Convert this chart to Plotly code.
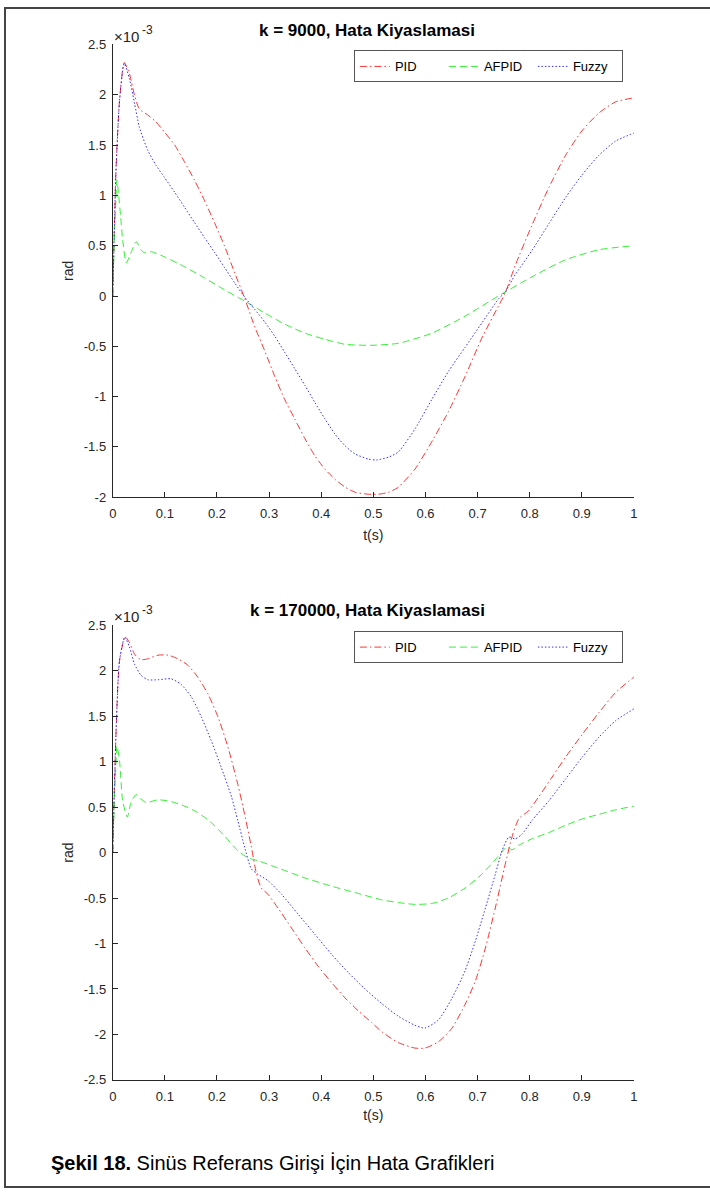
import plotly.graph_objects as go

# ---------------- data (error values in units of 1e-3 rad) ----------------
# k = 9000
t9_pid = [0, 0.006, 0.013, 0.022, 0.032, 0.042, 0.051, 0.067, 0.083, 0.099,
          0.119, 0.138, 0.157, 0.176, 0.196, 0.215, 0.234, 0.253, 0.272, 0.292,
          0.311, 0.33, 0.349, 0.369, 0.388, 0.407, 0.426, 0.446, 0.465, 0.49,
          0.51, 0.53, 0.548, 0.58, 0.612, 0.644, 0.676, 0.708, 0.74, 0.753,
          0.772, 0.804, 0.837, 0.869, 0.90, 0.933, 0.965, 1.0]
e9_pid = [0, 1.22, 1.94, 2.32, 2.21, 1.99, 1.86, 1.80, 1.73, 1.63,
          1.50, 1.33, 1.15, 0.95, 0.72, 0.49, 0.23, -0.02, -0.30, -0.55,
          -0.80, -1.03, -1.22, -1.42, -1.59, -1.72, -1.82, -1.90, -1.95, -1.97,
          -1.97, -1.95, -1.90, -1.72, -1.45, -1.15, -0.80, -0.42, -0.10, 0.03,
          0.30, 0.70, 1.08, 1.40, 1.64, 1.82, 1.93, 1.97]

t9_afpid = [0, 0.003, 0.006, 0.008, 0.011, 0.015, 0.019, 0.026, 0.035, 0.045,
            0.054, 0.061, 0.074, 0.099, 0.138, 0.176, 0.215, 0.253, 0.292, 0.33,
            0.369, 0.407, 0.446, 0.497, 0.548, 0.612, 0.676, 0.74, 0.804, 0.869,
            0.933, 1.0]
e9_afpid = [0, 0.55, 0.95, 1.15, 1.02, 0.80, 0.56, 0.33, 0.43, 0.54,
            0.46, 0.43, 0.44, 0.39, 0.29, 0.18, 0.06, -0.05, -0.17, -0.28,
            -0.37, -0.43, -0.48, -0.49, -0.47, -0.37, -0.20, 0.0, 0.19, 0.36,
            0.46, 0.50]

t9_fuzzy = [0, 0.006, 0.013, 0.022, 0.032, 0.042, 0.051, 0.067, 0.083, 0.099,
            0.119, 0.138, 0.157, 0.176, 0.196, 0.215, 0.234, 0.253, 0.272, 0.292,
            0.311, 0.33, 0.349, 0.369, 0.388, 0.407, 0.426, 0.446, 0.465, 0.49,
            0.506, 0.53, 0.548, 0.58, 0.612, 0.644, 0.676, 0.708, 0.74, 0.753,
            0.772, 0.804, 0.837, 0.869, 0.90, 0.933, 0.965, 1.0]
e9_fuzzy = [0, 1.22, 1.94, 2.31, 2.16, 1.91, 1.68, 1.45, 1.30, 1.18,
            1.03, 0.88, 0.73, 0.58, 0.43, 0.28, 0.13, -0.01, -0.13, -0.26,
            -0.40, -0.56, -0.72, -0.89, -1.06, -1.22, -1.37, -1.49, -1.57, -1.62,
            -1.63, -1.60, -1.55, -1.32, -1.03, -0.75, -0.51, -0.27, -0.03, 0.04,
            0.21, 0.45, 0.72, 0.98, 1.20, 1.40, 1.54, 1.62]

# k = 170000
t17_pid = [0, 0.006, 0.013, 0.024, 0.032, 0.042, 0.054, 0.067, 0.087, 0.106,
           0.125, 0.144, 0.163, 0.183, 0.202, 0.221, 0.24, 0.253, 0.266, 0.276,
           0.285, 0.298, 0.317, 0.343, 0.369, 0.394, 0.42, 0.446, 0.471, 0.497,
           0.516, 0.548, 0.58, 0.599, 0.625, 0.651, 0.676, 0.696, 0.715, 0.734,
           0.753, 0.766, 0.779, 0.798, 0.817, 0.843, 0.869, 0.901, 0.933, 0.965,
           1.0]
e17_pid = [0, 1.27, 2.11, 2.37, 2.31, 2.18, 2.12, 2.13, 2.17, 2.17,
           2.13, 2.06, 1.93, 1.74, 1.49, 1.16, 0.75, 0.42, 0.06, -0.24,
           -0.39, -0.46, -0.61, -0.83, -1.05, -1.25, -1.43, -1.60, -1.74, -1.87,
           -1.97, -2.09, -2.15, -2.15, -2.08, -1.93, -1.67, -1.41, -1.05, -0.61,
           -0.13, 0.17, 0.37, 0.46, 0.61, 0.83, 1.05, 1.30, 1.54, 1.76,
           1.93]

t17_afpid = [0, 0.003, 0.006, 0.008, 0.013, 0.019, 0.028, 0.035, 0.045, 0.054,
             0.064, 0.087, 0.112, 0.138, 0.163, 0.189, 0.215, 0.24, 0.26, 0.279,
             0.317, 0.369, 0.42, 0.471, 0.516, 0.548, 0.58, 0.612, 0.644, 0.676,
             0.708, 0.74, 0.756, 0.766, 0.779, 0.804, 0.837, 0.869, 0.901, 0.933,
             0.965, 1.0]
e17_afpid = [0, 0.55, 0.95, 1.17, 1.01, 0.57, 0.39, 0.55, 0.64, 0.59,
             0.55, 0.58, 0.56, 0.51, 0.44, 0.33, 0.18, 0.02, -0.06, -0.09,
             -0.17, -0.28, -0.37, -0.45, -0.52, -0.55, -0.57, -0.56, -0.50, -0.39,
             -0.24, -0.04, 0.06, 0.03, 0.08, 0.15, 0.22, 0.30, 0.37, 0.42,
             0.47, 0.51]

t17_fuzzy = [0, 0.006, 0.013, 0.023, 0.032, 0.042, 0.054, 0.067, 0.087, 0.112,
             0.131, 0.151, 0.17, 0.189, 0.208, 0.228, 0.24, 0.253, 0.266, 0.279,
             0.298, 0.324, 0.356, 0.388, 0.42, 0.452, 0.484, 0.516, 0.548, 0.58,
             0.599, 0.625, 0.651, 0.676, 0.696, 0.715, 0.734, 0.747, 0.76, 0.772,
             0.785, 0.804, 0.837, 0.869, 0.901, 0.933, 0.965, 1.0]
e17_fuzzy = [0, 1.27, 2.11, 2.37, 2.26, 2.07, 1.95, 1.90, 1.90, 1.91,
             1.85, 1.71, 1.49, 1.23, 0.94, 0.61, 0.35, 0.06, -0.18, -0.24,
             -0.31, -0.46, -0.68, -0.90, -1.12, -1.32, -1.50, -1.66, -1.80, -1.90,
             -1.93, -1.84, -1.60, -1.30, -0.97, -0.61, -0.24, 0.02, 0.17, 0.15,
             0.20, 0.35, 0.57, 0.81, 1.05, 1.27, 1.45, 1.58]

series_names = ["PID", "AFPID", "Fuzzy"]
titles = ["k = 9000, Hata Kiyaslamasi", "k = 170000, Hata Kiyaslamasi"]
x_ticks = [0, 0.1, 0.2, 0.3, 0.4, 0.5, 0.6, 0.7, 0.8, 0.9, 1]
x_ticklabels = ["0", "0.1", "0.2", "0.3", "0.4", "0.5", "0.6", "0.7", "0.8", "0.9", "1"]
y1_ticks = [-2, -1.5, -1, -0.5, 0, 0.5, 1, 1.5, 2, 2.5]
y2_ticks = [-2.5, -2, -1.5, -1, -0.5, 0, 0.5, 1, 1.5, 2, 2.5]
caption_bold = "Şekil 18."
caption_text = " Sinüs Referans Girişi İçin Hata Grafikleri"

# ---------------- figure ----------------
W, H = 710, 1196
FONT = "Liberation Sans, Arial, Helvetica, sans-serif"
AX = "#262626"

styles = {
    "PID": dict(color="rgb(255,0,0)", dash="7px,3px,1.5px,3px"),
    "AFPID": dict(color="rgb(0,235,0)", dash="7px,4px"),
    "Fuzzy": dict(color="rgb(0,0,255)", dash="1.5px,2px"),
}

fig = go.Figure()
panels = [
    ([(t9_pid, e9_pid), (t9_afpid, e9_afpid), (t9_fuzzy, e9_fuzzy)], "x", "y", "legend"),
    ([(t17_pid, e17_pid), (t17_afpid, e17_afpid), (t17_fuzzy, e17_fuzzy)], "x2", "y2", "legend2"),
]
for data, xa, ya, lg in panels:
    for name, (tt, ee) in zip(series_names, data):
        st = styles[name]
        fig.add_trace(go.Scatter(
            x=tt, y=ee, name=name, mode="lines",
            line=dict(color=st["color"], dash=st["dash"], width=1, shape="spline", smoothing=0.6),
            opacity=0.8,
            xaxis=xa, yaxis=ya, legend=lg,
        ))

# map reference-image pixel positions to figure pixels (photo is slightly rescaled)
def px_x(p):
    return ((p - 4.5) / 0.9865) / W

def px_y(p):
    return 1 - ((p - 6.5) / 0.988) / H

xdom = [px_x(113), px_x(633)]
ydom1 = [px_y(497), px_y(44)]
ydom2 = [px_y(1080), px_y(625)]

axis_common = dict(
    showline=True, linecolor=AX, linewidth=1, mirror=False,
    ticks="inside", ticklen=5, tickcolor=AX, tickwidth=1,
    showgrid=False, zeroline=False,
    tickfont=dict(family=FONT, size=13, color=AX),
)

legend_common = dict(
    orientation="h", xanchor="right", yanchor="middle",
    bgcolor="white", bordercolor="#555", borderwidth=1,
    font=dict(family=FONT, size=13, color="black"),
    tracegroupgap=0, itemwidth=30, entrywidthmode="pixels", entrywidth=44,
)

fig.update_layout(
    width=W, height=H,
    margin=dict(l=0, r=0, t=0, b=0),
    paper_bgcolor="white", plot_bgcolor="white",
    font=dict(family=FONT, size=13, color=AX),
    xaxis=dict(domain=xdom, range=[0, 1], tickvals=x_ticks, ticktext=x_ticklabels,
               anchor="y", ticklabelstandoff=4,
               title=dict(text="t(s)", font=dict(size=14), standoff=10), **axis_common),
    yaxis=dict(domain=ydom1, range=[-2, 2.5], tickvals=y1_ticks,
               ticktext=[f"{v:g}" for v in y1_ticks], anchor="x", ticklabelstandoff=3,
               title=dict(text="rad", font=dict(size=14), standoff=6), **axis_common),
    xaxis2=dict(domain=xdom, range=[0, 1], tickvals=x_ticks, ticktext=x_ticklabels,
                anchor="y2", ticklabelstandoff=4,
                title=dict(text="t(s)", font=dict(size=14), standoff=7), **axis_common),
    yaxis2=dict(domain=ydom2, range=[-2.5, 2.5], tickvals=y2_ticks,
                ticktext=[f"{v:g}" for v in y2_ticks], anchor="x2", ticklabelstandoff=3,
                title=dict(text="rad", font=dict(size=14), standoff=6), **axis_common),
    legend=dict(x=px_x(622), y=px_y(66), **legend_common),
    legend2=dict(x=px_x(622), y=px_y(647), **legend_common),
    showlegend=True,
)

annotations = []
for title, ytop in zip(titles, [30, 610]):
    annotations.append(dict(text=f"<b>{title}</b>", x=px_x(367), y=px_y(ytop),
                            xref="paper", yref="paper", xanchor="center", yanchor="middle",
                            showarrow=False, font=dict(family=FONT, size=17, color="black")))
for ytop in [36, 616]:
    annotations.append(dict(text="×10", x=px_x(112), y=px_y(ytop),
                            xref="paper", yref="paper", xanchor="left", yanchor="middle",
                            showarrow=False, font=dict(family=FONT, size=15, color=AX)))
    annotations.append(dict(text="-3", x=px_x(140), y=px_y(ytop - 6),
                            xref="paper", yref="paper", xanchor="left", yanchor="middle",
                            showarrow=False, font=dict(family=FONT, size=12, color=AX)))
annotations.append(dict(text=f"<b>{caption_bold}</b>{caption_text}", x=px_x(49), y=px_y(1163),
                        xref="paper", yref="paper", xanchor="left", yanchor="middle",
                        showarrow=False,
                        font=dict(family="Liberation Sans, Arial, sans-serif", size=20, color="black")))
fig.update_layout(annotations=annotations)

# page frame: open path along the top, left and bottom edges (no right edge)
yt, yb, xl = 1 - 1 / H, 1 / H, 1 / W
fig.add_shape(type="path", xref="paper", yref="paper",
              path=f"M 1.02,{yt} L {xl},{yt} L {xl},{yb} L 1.02,{yb}",
              fillcolor="rgba(0,0,0,0)", line=dict(color="#444", width=2))

fig.write_html(
    "out.html",
    config={"displayModeBar": False, "staticPlot": True},
    post_script="document.documentElement.style.margin='0';document.body.style.margin='0';"
                "document.body.style.overflow='hidden';",
)
